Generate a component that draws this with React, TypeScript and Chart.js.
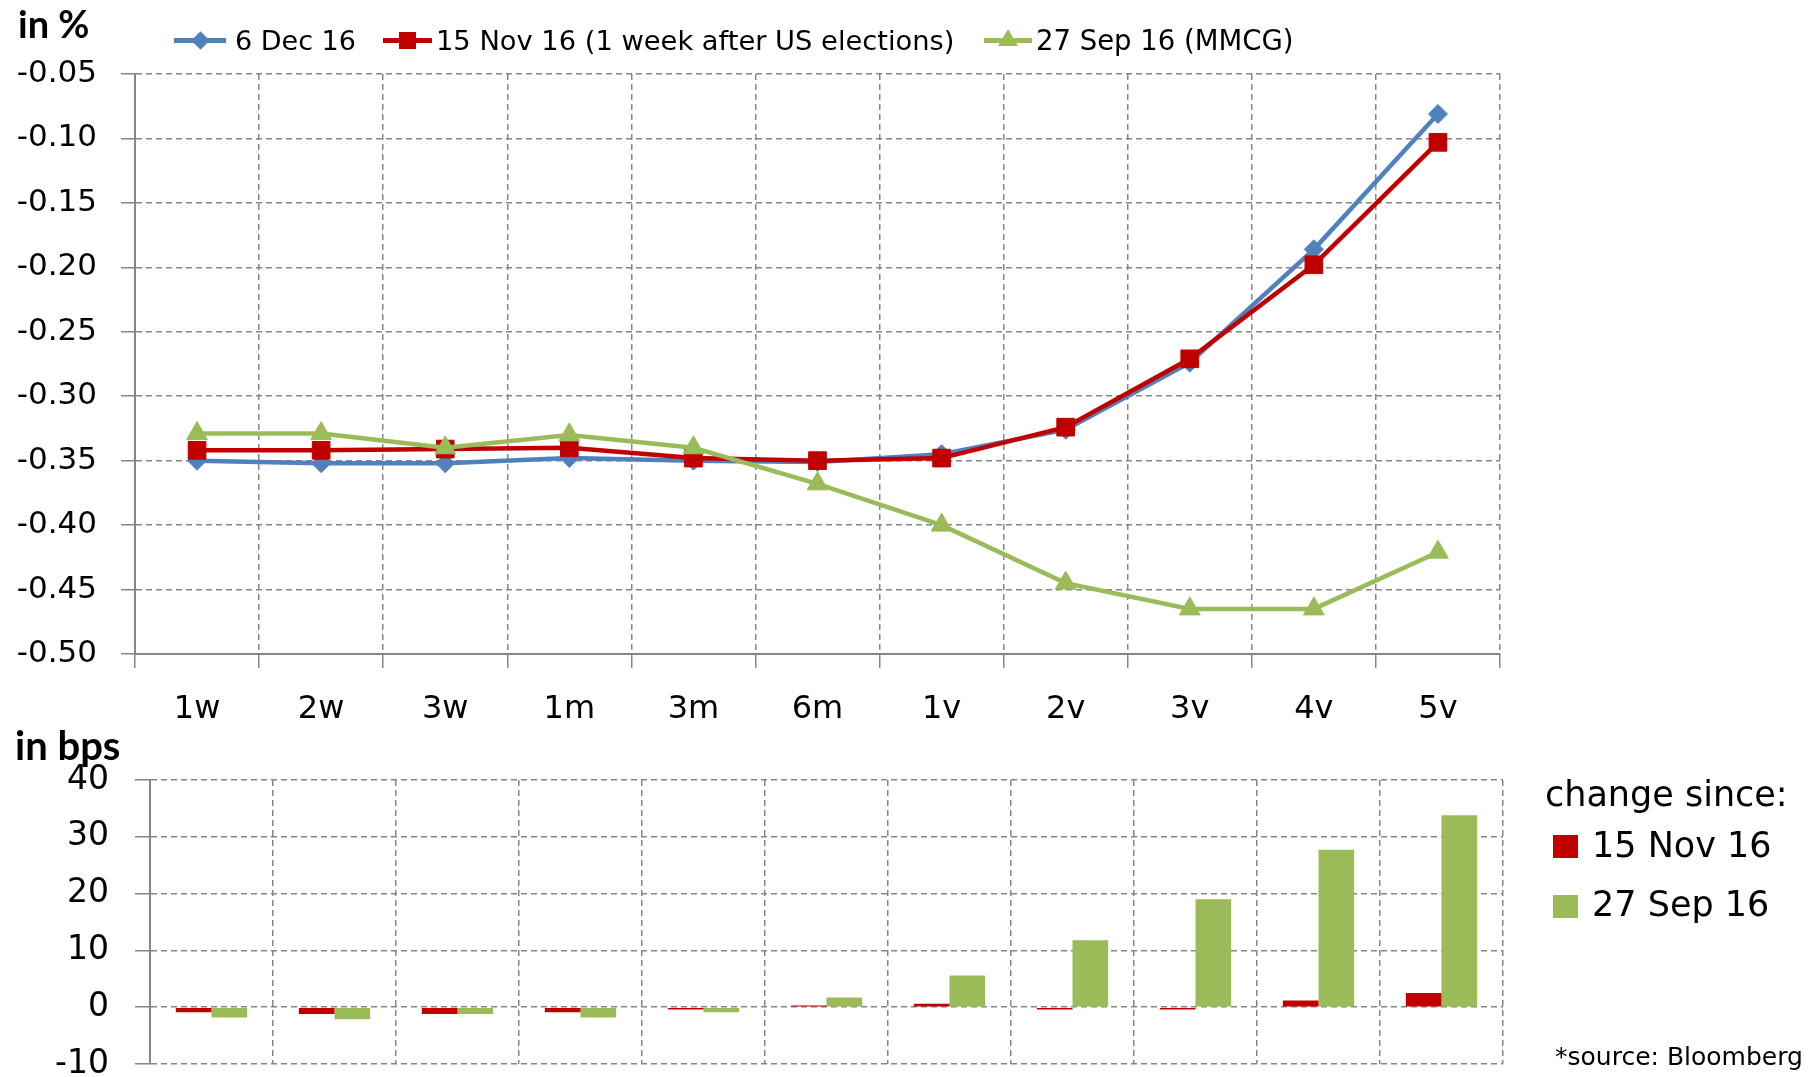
import React, { useEffect, useRef } from "react";
import { Chart, registerables } from "chart.js";

Chart.register(...registerables);

// ---- data ----
const tenors = ["1w", "2w", "3w", "1m", "3m", "6m", "1v", "2v", "3v", "4v", "5v"];
const dec6 = [-0.35, -0.352, -0.352, -0.348, -0.35, -0.351, -0.345, -0.326, -0.274, -0.186, -0.081];
const nov15 = [-0.342, -0.342, -0.341, -0.34, -0.348, -0.35, -0.348, -0.324, -0.271, -0.198, -0.103];
const sep27 = [-0.329, -0.329, -0.34, -0.33, -0.34, -0.368, -0.4, -0.445, -0.465, -0.465, -0.421];
const chgNov15 = [-0.9, -1.2, -1.2, -0.9, -0.4, 0.3, 0.6, -0.4, -0.4, 1.2, 2.5];
const chgSep27 = [-1.8, -2.1, -1.2, -1.8, -0.9, 1.7, 5.6, 11.8, 19.0, 27.7, 33.8];
const pctTicks = [-0.05, -0.1, -0.15, -0.2, -0.25, -0.3, -0.35, -0.4, -0.45, -0.5];
const bpsTicks = [40, 30, 20, 10, 0, -10];

const seriesLabels = ["6 Dec 16", "15 Nov 16 (1 week after US elections)", "27 Sep 16 (MMCG)"];
const barLabels = ["15 Nov 16", "27 Sep 16"];

const BLUE = "#4F81BD";
const RED = "#C00000";
const GREEN = "#9BBB59";
const GRID = "#868686";
const AXIS = "#868686";
const FONT = "'DejaVu Sans', sans-serif";

export default function App() {
  const topRef = useRef<HTMLCanvasElement>(null);
  const botRef = useRef<HTMLCanvasElement>(null);

  useEffect(() => {
    const gridOpts = (tl: number, drawTicks = true) => ({
      color: GRID,
      lineWidth: 1.5,
      offset: true,
      drawTicks,
      tickLength: tl,
      tickColor: AXIS,
      tickWidth: 1.5,
      tickBorderDash: [],
    });
    const borderOpts = (display = true) => ({
      display,
      color: AXIS,
      width: 2,
      dash: [6, 4],
      z: 1,
    });

    const top = new Chart(topRef.current!, {
      type: "line",
      data: {
        labels: tenors,
        datasets: [
          {
            label: seriesLabels[2],
            data: sep27,
            borderColor: GREEN,
            backgroundColor: GREEN,
            borderWidth: 4.5,
            pointStyle: "triangle",
            pointRadius: 12,
            pointBorderWidth: 1,
            tension: 0,
          },
          {
            label: seriesLabels[1],
            data: nov15,
            borderColor: RED,
            backgroundColor: RED,
            borderWidth: 4.5,
            pointStyle: "rect",
            pointRadius: 12.5,
            pointBorderWidth: 1,
            tension: 0,
          },
          {
            label: seriesLabels[0],
            data: dec6,
            borderColor: BLUE,
            backgroundColor: BLUE,
            borderWidth: 4.5,
            pointStyle: "rectRot",
            pointRadius: 9.5,
            pointBorderWidth: 1,
            tension: 0,
          },
        ],
      },
      options: {
        responsive: false,
        maintainAspectRatio: false,
        animation: false,
        layout: { padding: { top: 74, right: 319, left: 0, bottom: 0 } },
        plugins: { legend: { display: false }, tooltip: { enabled: false } },
        scales: {
          x: {
            type: "category",
            offset: true,
            grid: gridOpts(14),
            border: borderOpts(true),
            ticks: {
              color: "#000",
              font: { family: FONT, size: 32 },
              padding: 22,
              maxRotation: 0,
              autoSkip: false,
            },
            afterFit: (s: any) => {
              s.height = 86;
              s.paddingLeft = 0;
              s.paddingRight = 0;
            },
          },
          y: {
            type: "linear",
            min: Math.min(...pctTicks),
            max: Math.max(...pctTicks),
            afterBuildTicks: (s: any) => {
              s.ticks = [...pctTicks].sort((a, b) => a - b).map((v) => ({ value: v }));
            },
            grid: { ...gridOpts(14), offset: false },
            border: borderOpts(true),
            ticks: {
              color: "#000",
              font: { family: FONT, size: 31 },
              padding: 24,
              callback: (v: any) => Number(v).toFixed(2),
            },
            afterFit: (s: any) => {
              s.width = 135;
              s.paddingTop = 0;
              s.paddingBottom = 0;
            },
          },
        },
      },
    });

    const bot = new Chart(botRef.current!, {
      type: "bar",
      data: {
        labels: tenors,
        datasets: [
          {
            label: barLabels[0],
            data: chgNov15,
            backgroundColor: RED,
            categoryPercentage: 0.58,
            barPercentage: 1,
          },
          {
            label: barLabels[1],
            data: chgSep27,
            backgroundColor: GREEN,
            categoryPercentage: 0.58,
            barPercentage: 1,
          },
        ],
      },
      options: {
        responsive: false,
        maintainAspectRatio: false,
        animation: false,
        layout: { padding: { top: 40, right: 316, left: 0, bottom: 13 } },
        plugins: { legend: { display: false }, tooltip: { enabled: false } },
        scales: {
          x: {
            type: "category",
            offset: true,
            grid: gridOpts(0, false),
            border: borderOpts(false),
            ticks: { display: false },
            afterFit: (s: any) => {
              s.height = 0;
              s.paddingLeft = 0;
              s.paddingRight = 0;
            },
          },
          y: {
            type: "linear",
            min: Math.min(...bpsTicks),
            max: Math.max(...bpsTicks),
            afterBuildTicks: (s: any) => {
              s.ticks = [...bpsTicks].sort((a, b) => a - b).map((v) => ({ value: v }));
            },
            grid: { ...gridOpts(15), offset: false },
            border: borderOpts(true),
            ticks: {
              color: "#000",
              font: { family: FONT, size: 33 },
              padding: 26,
              callback: (v: any) => String(v),
            },
            afterFit: (s: any) => {
              s.width = 150;
              s.paddingTop = 0;
              s.paddingBottom = 0;
            },
          },
        },
      },
    });

    return () => {
      top.destroy();
      bot.destroy();
    };
  }, []);

  const txt = (left: number, top: number, size: number, text: string, extra: any = {}) => (
    <div
      style={{
        position: "absolute",
        left,
        top,
        fontFamily: FONT,
        fontSize: size,
        lineHeight: `${size}px`,
        whiteSpace: "nowrap",
        color: "#000",
        ...extra,
      }}
    >
      {text}
    </div>
  );

  const legendLine = (x1: number, x2: number, y: number, color: string, marker: React.ReactNode) => (
    <div style={{ position: "absolute", left: x1, top: y - 2, width: x2 - x1, height: 4.5, background: color }}>
      <div style={{ position: "absolute", left: (x2 - x1) / 2, top: 2, width: 0, height: 0 }}>{marker}</div>
    </div>
  );

  return (
    <div
      style={{
        position: "absolute",
        left: 0,
        top: 0,
        width: 1819,
        height: 1077,
        overflow: "hidden",
        background: "#fff",
      }}
    >
      <canvas
        ref={topRef}
        width={1819}
        height={740}
        style={{ position: "absolute", left: 0, top: 0, width: 1819, height: 740, display: "block" }}
      />
      <canvas
        ref={botRef}
        width={1819}
        height={337}
        style={{ position: "absolute", left: 0, top: 740, width: 1819, height: 337, display: "block" }}
      />

      {txt(18, 4, 38, "in %", { fontFamily: "Lato, sans-serif", fontWeight: 700 })}
      {txt(15, 725, 40, "in bps", { fontFamily: "Lato, sans-serif", fontWeight: 700 })}

      {/* top legend */}
      {legendLine(
        174,
        226,
        40,
        BLUE,
        <div style={{ position: "absolute", left: -6.5, top: -6.5, width: 13, height: 13, background: BLUE, transform: "rotate(45deg)" }} />
      )}
      {txt(235, 27, 27, seriesLabels[0])}
      {legendLine(
        383,
        432,
        40,
        RED,
        <div style={{ position: "absolute", left: -8.5, top: -8.5, width: 17, height: 17, background: RED }} />
      )}
      {txt(436, 27, 27.3, seriesLabels[1])}
      {legendLine(
        984,
        1032,
        40,
        GREEN,
        <div
          style={{
            position: "absolute",
            left: -10,
            top: -11,
            width: 0,
            height: 0,
            borderLeft: "10px solid transparent",
            borderRight: "10px solid transparent",
            borderBottom: `17px solid ${GREEN}`,
          }}
        />
      )}
      {txt(1036, 27, 27.5, seriesLabels[2])}

      {/* bottom legend */}
      {txt(1545, 777, 35, "change since:")}
      <div style={{ position: "absolute", left: 1553, top: 835, width: 25, height: 23, background: RED }} />
      {txt(1592, 828, 35, barLabels[0])}
      <div style={{ position: "absolute", left: 1553, top: 895, width: 25, height: 23, background: GREEN }} />
      {txt(1592, 887, 35, barLabels[1])}
      {txt(1555, 1044, 25, "*source: Bloomberg")}
    </div>
  );
}
